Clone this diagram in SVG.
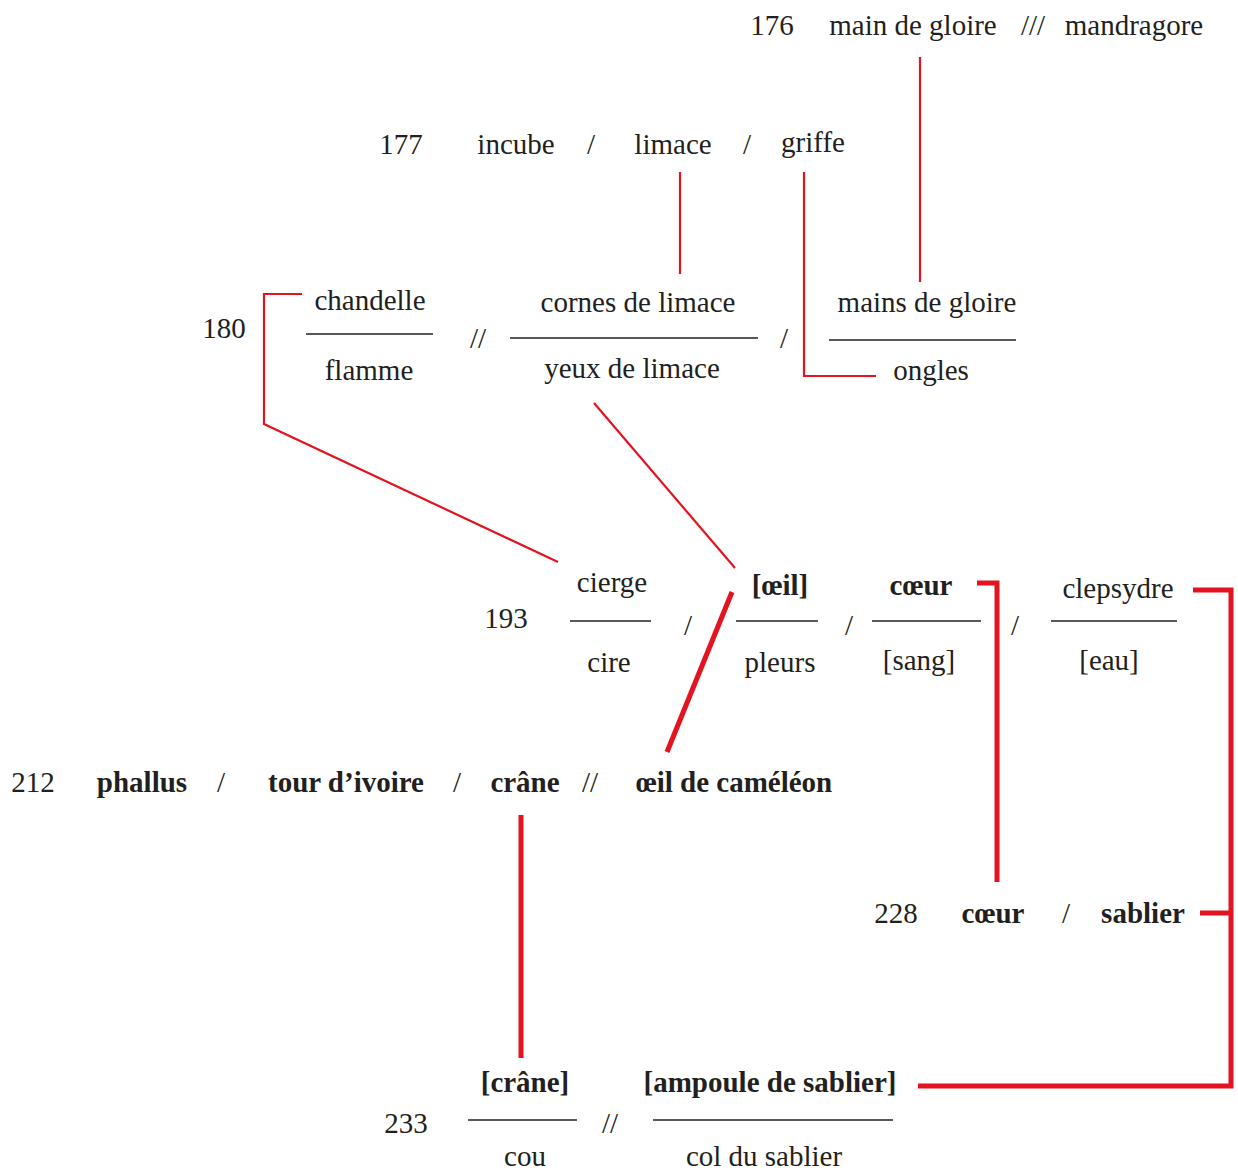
<svg xmlns="http://www.w3.org/2000/svg" width="1238" height="1171" viewBox="0 0 1238 1171">
<style>
text{font-family:"Liberation Serif","DejaVu Serif",serif;font-size:29px;fill:#231f20;text-anchor:middle}
.b{font-weight:bold}
.bar{stroke:#231f20;stroke-width:1.6;fill:none}
.r{stroke:#e3141f;stroke-width:2.2;fill:none}
.R{stroke:#e3141f;stroke-width:5;fill:none}
</style>
<rect width="1238" height="1171" fill="#fff"/>
<g id="connectors">
<path class="r" d="M920 57V282"/>
<path class="r" d="M680 172V274"/>
<path class="r" d="M804 172V376H876"/>
<path class="r" d="M302 294H264V424L558 562"/>
<path class="r" d="M594 403L735 568"/>
<path class="R" d="M732 592L667 752"/>
<path class="R" d="M977 583H997V882"/>
<path class="R" d="M1193 590H1231V1086H918"/>
<path class="R" d="M1200 913H1231"/>
<path class="R" d="M521 815V1058"/>
</g>
<g id="n176">
<text x="772" y="35">176</text>
<text x="913" y="35">main de gloire</text>
<text x="1033" y="35">///</text>
<text x="1134" y="35">mandragore</text>
</g>
<g id="n177">
<text x="401" y="154">177</text>
<text x="516" y="154">incube</text>
<text x="591" y="154">/</text>
<text x="673" y="154">limace</text>
<text x="747" y="154">/</text>
<text x="813" y="152">griffe</text>
</g>
<g id="n180">
<text x="224" y="338">180</text>
<text x="370" y="310">chandelle</text>
<path class="bar" d="M306 334H433"/>
<text x="369" y="380">flamme</text>
<text x="478" y="348">//</text>
<text x="638" y="312">cornes de limace</text>
<path class="bar" d="M510 338H758"/>
<text x="632" y="378">yeux de limace</text>
<text x="784" y="348">/</text>
<text x="927" y="312">mains de gloire</text>
<path class="bar" d="M829 340H1016"/>
<text x="931" y="380">ongles</text>
</g>
<g id="n193">
<text x="506" y="628">193</text>
<text x="612" y="592">cierge</text>
<path class="bar" d="M570 621H651"/>
<text x="609" y="672">cire</text>
<text x="688" y="635">/</text>
<text class="b" x="780" y="595">[œil]</text>
<path class="bar" d="M736 621H818"/>
<text x="780" y="672">pleurs</text>
<text x="849" y="635">/</text>
<text class="b" x="921" y="595">cœur</text>
<path class="bar" d="M872 621H981"/>
<text x="919" y="670">[sang]</text>
<text x="1015" y="635">/</text>
<text x="1118" y="598">clepsydre</text>
<path class="bar" d="M1051 621H1177"/>
<text x="1109" y="670">[eau]</text>
</g>
<g id="n212">
<text x="33" y="792">212</text>
<text class="b" x="142" y="792">phallus</text>
<text x="221" y="792">/</text>
<text class="b" x="346" y="792">tour d’ivoire</text>
<text x="457" y="792">/</text>
<text class="b" x="525" y="792">crâne</text>
<text x="590" y="792">//</text>
<text class="b" x="734" y="792">œil de caméléon</text>
</g>
<g id="n228">
<text x="896" y="923">228</text>
<text class="b" x="993" y="923">cœur</text>
<text x="1066" y="923">/</text>
<text class="b" x="1143" y="923">sablier</text>
</g>
<g id="n233">
<text class="b" x="525" y="1092">[crâne]</text>
<text x="406" y="1133">233</text>
<path class="bar" d="M468 1120H577"/>
<text x="610" y="1133">//</text>
<text class="b" x="770" y="1092">[ampoule de sablier]</text>
<path class="bar" d="M653 1120H893"/>
<text x="525" y="1166">cou</text>
<text x="764" y="1166">col du sablier</text>
</g>
</svg>
